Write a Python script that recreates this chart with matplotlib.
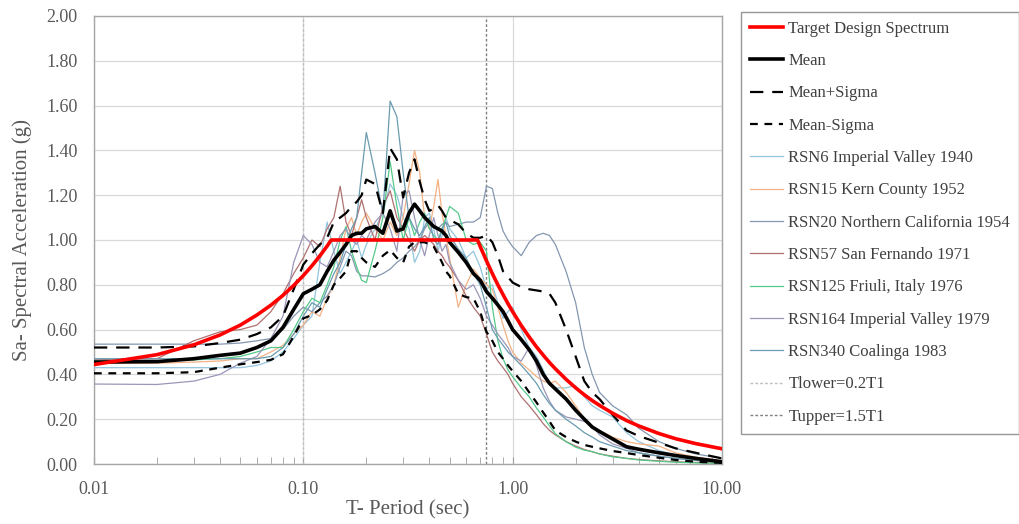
import matplotlib
matplotlib.use("Agg")
import matplotlib.pyplot as plt
from matplotlib.ticker import LogLocator, FixedLocator, FixedFormatter, NullFormatter

plt.rcParams['font.family'] = ['Liberation Serif', 'DejaVu Serif']

# Periods (sec) shared by the record spectra and the statistics
periods = [0.01, 0.02, 0.03, 0.04, 0.05, 0.06, 0.07, 0.08, 0.09, 0.10,
           0.11, 0.12, 0.13, 0.14, 0.15, 0.16, 0.17, 0.18, 0.19, 0.20,
           0.22, 0.24, 0.26, 0.28, 0.30, 0.32, 0.34, 0.36, 0.38, 0.40,
           0.42, 0.44, 0.46, 0.48, 0.50, 0.55, 0.60, 0.65, 0.70, 0.75,
           0.80, 0.85, 0.90, 0.95, 1.0, 1.1, 1.2, 1.3, 1.4, 1.5,
           1.6, 1.8, 2.0, 2.2, 2.4, 2.6, 3.0, 3.5, 4.0, 5.0,
           6.0, 7.5, 10.0]

# Target design spectrum
target_T = [0.01, 0.02, 0.03, 0.04, 0.05, 0.06, 0.07, 0.08, 0.09, 0.10,
            0.11, 0.12, 0.13, 0.136, 0.68, 0.70, 0.75, 0.80, 0.85, 0.90,
            0.95, 1.0, 1.1, 1.2, 1.3, 1.4, 1.5, 1.6, 1.8, 2.0,
            2.2, 2.4, 2.6, 3.0, 3.5, 4.0, 5.0, 6.0, 7.5, 10.0]
target_sa = [0.444, 0.488, 0.532, 0.576, 0.62, 0.665, 0.709, 0.753, 0.797, 0.841,
             0.885, 0.929, 0.973, 1.0, 1.0, 0.971, 0.907, 0.85, 0.80, 0.756,
             0.716, 0.68, 0.618, 0.567, 0.523, 0.486, 0.453, 0.425, 0.378, 0.34,
             0.309, 0.283, 0.262, 0.227, 0.194, 0.17, 0.136, 0.113, 0.091, 0.068]

mean_sa = [0.455, 0.457, 0.47, 0.485, 0.495, 0.52, 0.55, 0.61, 0.69, 0.76,
           0.78, 0.80, 0.86, 0.91, 0.945, 0.98, 1.02, 1.03, 1.03, 1.05,
           1.06, 1.03, 1.13, 1.04, 1.05, 1.12, 1.16, 1.13, 1.10, 1.08,
           1.06, 1.05, 1.04, 1.02, 0.99, 0.945, 0.90, 0.85, 0.82, 0.77,
           0.74, 0.71, 0.68, 0.64, 0.60, 0.555, 0.51, 0.46, 0.40, 0.36,
           0.335, 0.29, 0.24, 0.20, 0.165, 0.145, 0.112, 0.077, 0.066, 0.05,
           0.038, 0.025, 0.01]
mean_plus = [0.52, 0.52, 0.525, 0.54, 0.555, 0.58, 0.61, 0.66, 0.78, 0.89,
             0.94, 0.98, 1.01, 1.08, 1.10, 1.12, 1.15, 1.17, 1.20, 1.27,
             1.25, 1.12, 1.41, 1.36, 1.19, 1.30, 1.36, 1.26, 1.18, 1.13,
             1.14, 1.155, 1.13, 1.10, 1.09, 1.07, 1.03, 1.01, 1.01, 1.02,
             0.99, 0.93, 0.86, 0.835, 0.81, 0.79, 0.78, 0.775, 0.77, 0.76,
             0.72, 0.60, 0.48, 0.37, 0.32, 0.29, 0.22, 0.15, 0.125, 0.095,
             0.07, 0.05, 0.025]
mean_minus = [0.405, 0.405, 0.41, 0.43, 0.445, 0.455, 0.465, 0.49, 0.57, 0.65,
              0.665, 0.69, 0.73, 0.80, 0.83, 0.86, 0.95, 0.95, 0.92, 0.90,
              0.88, 0.93, 0.955, 0.92, 0.90, 0.97, 0.99, 0.99, 0.99, 0.98,
              0.97, 0.935, 0.90, 0.86, 0.84, 0.76, 0.745, 0.74, 0.68, 0.59,
              0.55, 0.50, 0.47, 0.44, 0.415, 0.37, 0.32, 0.275, 0.23, 0.19,
              0.15, 0.12, 0.10, 0.085, 0.077, 0.07, 0.058, 0.049, 0.04, 0.028,
              0.018, 0.01, 0.005]

rsn6 = [0.43, 0.43, 0.43, 0.43, 0.43, 0.44, 0.46, 0.50, 0.56, 0.62,
        0.66, 0.90, 1.08, 0.95, 0.85, 0.90, 0.95, 1.0, 0.92, 0.98,
        1.05, 1.12, 1.25, 1.20, 1.10, 1.05, 0.90, 0.95, 1.10, 1.12,
        1.05, 0.95, 1.02, 1.10, 1.05, 1.00, 0.92, 0.95, 0.88, 0.78,
        0.80, 0.72, 0.65, 0.68, 0.70, 0.60, 0.52, 0.48, 0.42, 0.36,
        0.34, 0.34, 0.35, 0.30, 0.26, 0.24, 0.21, 0.14, 0.10, 0.06,
        0.04, 0.025, 0.012]
rsn15 = [0.45, 0.45, 0.455, 0.46, 0.47, 0.47, 0.50, 0.53, 0.58, 0.62,
         0.68, 0.66, 0.74, 0.80, 0.92, 1.05, 1.10, 1.02, 1.08, 1.12,
         1.05, 1.00, 1.08, 1.02, 1.10, 1.25, 1.40, 1.30, 1.10, 1.05,
         1.15, 1.27, 1.12, 1.02, 0.92, 0.70, 0.80, 0.87, 0.83, 0.80,
         0.78, 0.70, 0.62, 0.55, 0.50, 0.45, 0.42, 0.39, 0.37, 0.36,
         0.37, 0.32, 0.26, 0.20, 0.17, 0.15, 0.12, 0.10, 0.09, 0.08,
         0.05, 0.03, 0.015]
rsn20 = [0.535, 0.535, 0.535, 0.535, 0.54, 0.55, 0.56, 0.60, 0.66, 0.70,
         0.68, 0.72, 0.75, 0.80, 0.88, 0.95, 0.93, 0.86, 0.84, 0.84,
         0.835, 0.85, 0.87, 0.90, 0.92, 0.95, 0.97, 1.00, 1.05, 1.08,
         1.06, 1.05, 1.07, 1.08, 1.06, 1.07, 1.08, 1.08, 1.10, 1.24,
         1.23, 1.12, 1.04, 1.00, 0.97, 0.93, 0.99, 1.02, 1.03, 1.02,
         0.98, 0.86, 0.72, 0.52, 0.40, 0.32, 0.26, 0.22, 0.16, 0.10,
         0.07, 0.045, 0.025]
rsn57 = [0.465, 0.47, 0.55, 0.59, 0.60, 0.62, 0.68, 0.76, 0.85, 0.92,
         1.0, 0.97, 1.05, 1.10, 1.24, 1.08, 1.02, 1.10, 1.18, 1.10,
         1.00, 1.15, 1.22, 1.10, 1.05, 1.00, 0.95, 1.00, 1.02, 1.00,
         0.98, 0.95, 0.93, 0.90, 0.88, 0.82, 0.75, 0.70, 0.66, 0.58,
         0.50, 0.46, 0.43, 0.40, 0.36, 0.30, 0.26, 0.22, 0.18, 0.15,
         0.13, 0.10, 0.08, 0.065, 0.055, 0.045, 0.035, 0.025, 0.02, 0.014,
         0.01, 0.007, 0.004]
rsn125 = [0.46, 0.46, 0.465, 0.47, 0.48, 0.50, 0.52, 0.52, 0.60, 0.68,
          0.74, 0.72, 0.80, 0.88, 1.00, 1.06, 0.95, 0.88, 0.82, 0.81,
          0.95, 1.10, 1.35, 1.15, 1.00, 1.10, 1.02, 1.08, 1.12, 1.05,
          1.02, 1.00, 1.05, 1.10, 1.15, 1.12, 1.00, 0.98, 0.99, 0.95,
          0.70, 0.55, 0.47, 0.42, 0.39, 0.34, 0.30, 0.25, 0.21, 0.17,
          0.135, 0.10, 0.075, 0.062, 0.055, 0.045, 0.032, 0.025, 0.018, 0.012,
          0.008, 0.005, 0.003]
rsn164 = [0.357, 0.355, 0.37, 0.40, 0.45, 0.48, 0.56, 0.66, 0.90, 1.02,
          0.98, 0.90, 0.88, 0.95, 1.02, 1.05, 1.00, 0.98, 1.02, 1.00,
          1.08, 1.12, 1.05, 0.95, 1.20, 1.22, 1.10, 1.00, 0.93, 1.02,
          1.10, 1.02, 0.95, 0.98, 0.90, 0.82, 0.78, 0.80, 0.74, 0.66,
          0.62, 0.58, 0.55, 0.52, 0.48, 0.46, 0.52, 0.44, 0.34, 0.28,
          0.24, 0.21, 0.20, 0.19, 0.17, 0.13, 0.09, 0.07, 0.05, 0.035,
          0.025, 0.016, 0.01]
rsn340 = [0.47, 0.47, 0.47, 0.47, 0.47, 0.47, 0.48, 0.52, 0.58, 0.66,
          0.72, 0.70, 0.78, 0.85, 0.90, 0.98, 1.05, 1.10, 1.30, 1.48,
          1.30, 1.12, 1.62, 1.55, 1.30, 1.10, 1.05, 1.02, 1.06, 1.10,
          1.00, 0.98, 1.05, 1.08, 1.02, 0.96, 0.92, 0.85, 0.80, 0.70,
          0.60, 0.56, 0.53, 0.50, 0.48, 0.44, 0.40, 0.36, 0.31, 0.27,
          0.24, 0.20, 0.17, 0.14, 0.12, 0.10, 0.08, 0.06, 0.05, 0.035,
          0.025, 0.016, 0.009]

records = [
    ('RSN6 Imperial Valley 1940', rsn6, '#92c5de'),
    ('RSN15 Kern County 1952', rsn15, '#f4b183'),
    ('RSN20 Northern California 1954', rsn20, '#8497b0'),
    ('RSN57 San Fernando 1971', rsn57, '#b07070'),
    ('RSN125 Friuli, Italy 1976', rsn125, '#55c98a'),
    ('RSN164 Imperial Valley 1979', rsn164, '#9b95b8'),
    ('RSN340 Coalinga 1983', rsn340, '#6a9bb0'),
]

t_lower = 0.10
t_upper = 0.75

fig = plt.figure(figsize=(10.19, 5.24), dpi=100)
ax = fig.add_axes([0.0922, 0.1145, 0.6163, 0.855])

rec_handles = []
for name, vals, col in records:
    h, = ax.plot(periods, vals, color=col, lw=0.9, label=name, zorder=3)
    rec_handles.append(h)

hp, = ax.plot(periods, mean_plus, color='black', lw=1.6, ls=(0, (6, 4)),
              label='Mean+Sigma', zorder=4)
hm, = ax.plot(periods, mean_minus, color='black', lw=1.6, ls=(0, (3.5, 3)),
              label='Mean-Sigma', zorder=4)
hmean, = ax.plot(periods, mean_sa, color='black', lw=2.6, label='Mean', zorder=5)
htar, = ax.plot(target_T, target_sa, color='#ff0000', lw=2.6,
                label='Target Design Spectrum', zorder=6)
hlo = ax.axvline(t_lower, color='#bfbfbf', lw=1.0, ls=(0, (2, 1.5)),
                 label='Tlower=0.2T1', zorder=2)
hup = ax.axvline(t_upper, color='#808080', lw=1.0, ls=(0, (2, 1.5)),
                 label='Tupper=1.5T1', zorder=2)

ax.set_xscale('log')
ax.set_xlim(0.01, 10)
ax.set_ylim(0, 2.0)

ax.xaxis.set_major_locator(FixedLocator([0.01, 0.1, 1, 10]))
ax.xaxis.set_major_formatter(FixedFormatter(['0.01', '0.10', '1.00', '10.00']))
ax.xaxis.set_minor_locator(LogLocator(base=10, subs=range(2, 10)))
ax.xaxis.set_minor_formatter(NullFormatter())
ax.set_yticks([i * 0.2 for i in range(11)])
ax.set_yticklabels(['%.2f' % (i * 0.2) for i in range(11)])

ax.grid(True, which='major', axis='both', color='#d9d9d9', lw=0.9)
ax.set_axisbelow(True)
ax.tick_params(axis='x', which='both', direction='in', length=5, color='#a0a0a0',
               labelsize=13, labelcolor='#595959', pad=12)
ax.tick_params(axis='y', length=0, labelsize=13, labelcolor='#595959', pad=12)
for s in ax.spines.values():
    s.set_color('#a6a6a6')
    s.set_linewidth(1.0)

ax.set_xlabel('T- Period (sec)', fontsize=15, color='#595959', labelpad=2)
ax.set_ylabel('Sa- Spectral Acceleration (g)', fontsize=15, color='#595959', labelpad=10)

handles = [htar, hmean, hp, hm] + rec_handles + [hlo, hup]
leg = fig.legend(handles=handles, loc='upper left', bbox_to_anchor=(0.727, 0.978),
                 fontsize=12, frameon=True, fancybox=False, borderpad=0.55,
                 labelspacing=0.98, handlelength=2.0, handletextpad=0.3,
                 borderaxespad=0)
leg.get_frame().set_edgecolor('#7f7f7f')
leg.get_frame().set_linewidth(1.0)
for t in leg.get_texts():
    t.set_color('#404040')

fig.savefig('out.png', dpi=100)
